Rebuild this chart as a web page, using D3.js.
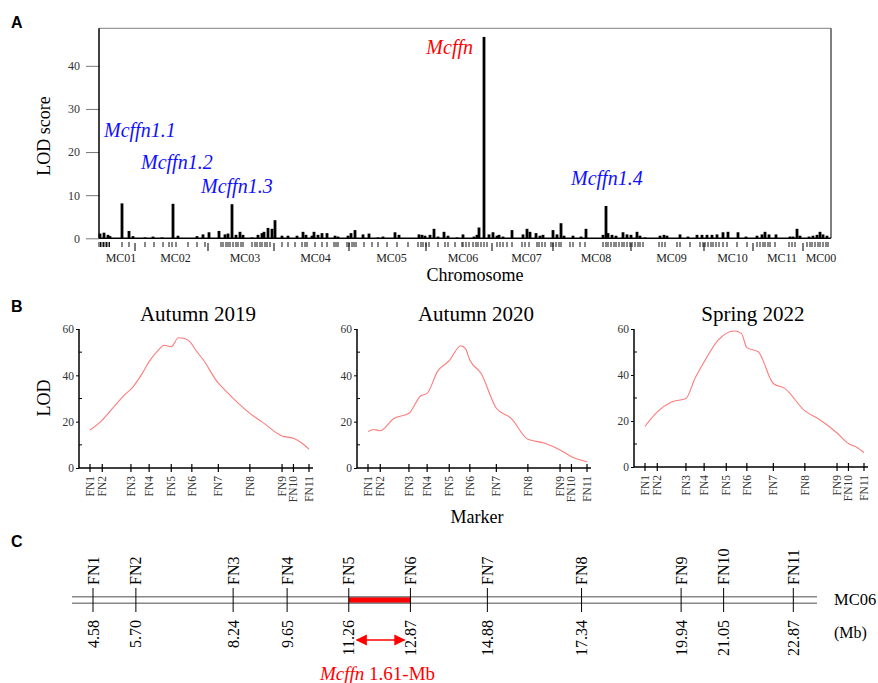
<!DOCTYPE html>
<html>
<head>
<meta charset="utf-8">
<script src="https://cdn.jsdelivr.net/npm/d3@7"></script>
<style>
  body { margin: 0; background: #fff; }
  svg { display: block; font-family: "Liberation Serif", "Times New Roman", serif; }
</style>
</head>
<body>
<svg id="fig" width="878" height="683"></svg>
<script>
// ---- panel A: genome scan (cumulative map units) ----
const chromNames = ['MC01', 'MC02', 'MC03', 'MC04', 'MC05', 'MC06', 'MC07', 'MC08', 'MC09', 'MC10', 'MC11', 'MC00'];
const chromLengths = [36, 73, 66, 75, 77, 66, 61, 78, 73, 49, 50, 28];

const scanPos = [1, 5, 9, 11, 23, 30, 34, 46, 54, 63, 74, 79, 98, 104, 110, 120, 126, 129, 133, 137, 141, 144,
  153, 159, 163, 165, 169, 173, 176, 183, 189, 198, 204, 207, 213, 215, 219, 223, 228, 236, 239, 249, 252, 256,
  264, 270, 279, 284, 296, 300, 320, 323, 326, 331, 335, 339, 345, 349, 358, 364, 375, 378, 380, 385, 390, 394,
  398, 400, 404, 413, 424, 428, 431, 437, 441, 444, 454, 458, 462, 465, 474, 482, 487, 504, 507, 509, 513, 517,
  524, 528, 532, 538, 541, 546, 561, 565, 568, 581, 589, 598, 603, 608, 613, 618, 624, 629, 639, 647, 658, 663,
  666, 670, 677, 691, 694, 698, 701, 710, 714, 718, 721, 724, 728];
const scanLod = [1.1, 1.3, 0.8, 0.5, 8.1, 1.7, 0.5, 0.2, 0.4, 0.2, 8.0, 0.6, 0.5, 0.9, 1.4, 1.7, 0.9, 1.1, 7.9, 0.8, 1.5, 0.8,
  0.2, 0.8, 1.2, 1.5, 2.4, 2.2, 4.2, 0.6, 0.6, 0.6, 1.5, 0.8, 0.6, 1.5, 0.8, 1.2, 1.2, 0.6, 0.4, 0.6, 1.2, 1.9,
  0.9, 1.1, 0.2, 0.4, 1.4, 0.8, 0.9, 0.8, 0.6, 0.8, 2.2, 0.4, 1.5, 0.6, 0.2, 0.9, 0.4, 0.8, 2.5, 46.7, 0.9, 1.4,
  0.6, 0.8, 0.4, 1.9, 0.9, 2.2, 1.5, 1.2, 0.6, 0.8, 1.9, 0.9, 3.5, 0.6, 0.6, 0.4, 2.2, 0.8, 7.5, 1.2, 0.8, 0.6,
  1.4, 0.9, 0.8, 1.5, 0.6, 0.2, 0.6, 0.8, 0.6, 0.9, 0.4, 0.8, 0.8, 0.8, 0.8, 0.9, 1.4, 1.5, 1.4, 0.4, 0.6, 0.9,
  1.5, 0.9, 0.9, 0.4, 0.4, 2.2, 0.6, 0.4, 0.6, 0.8, 1.5, 0.9, 0.6];

const rugPos = [0, 1.5, 3, 4.5, 6, 7.5, 9, 10.5, 23, 30, 46, 55, 64, 70, 73, 77, 89, 98, 106,
  122, 124, 127, 129, 131, 134, 137, 139, 142, 144, 153, 156, 158, 161, 163, 166, 168, 171, 183, 189, 196,
  203, 206, 208, 216, 223, 228, 235, 237, 239, 248, 250, 253, 255, 257, 265, 273, 279, 288, 298, 309,
  319, 322, 324, 327, 330, 339, 346, 349, 356, 363, 364, 367, 370, 374, 377, 379, 382, 385, 388,
  398, 401, 404, 408, 413, 423, 426, 430, 438, 440, 443, 446, 452, 454, 457, 460, 462, 471, 474, 481, 486,
  504, 507, 509, 512, 515, 517, 520, 523, 525, 528, 531, 533, 536, 539, 541, 544, 560, 563, 566, 578, 581,
  591, 601, 604, 606, 609, 612, 614, 617, 620, 624, 628, 638, 648, 658, 661, 664, 666, 669, 671, 676,
  690, 693, 696, 708, 711, 713, 716, 719, 721, 724, 727, 729];

const qtlNames = ['Mcffn1.1', 'Mcffn1.2', 'Mcffn1.3', 'Mcffn', 'Mcffn1.4'];
const yTicksA = [0, 10, 20, 30, 40];

// ---- panel B: LOD profiles on MC06 ----
const markerNames = ['FN1', 'FN2', 'FN3', 'FN4', 'FN5', 'FN6', 'FN7', 'FN8', 'FN9', 'FN10', 'FN11'];
const markerMapPos = [0, 5.6, 18.7, 27.0, 37.1, 46.5, 58.6, 73.0, 87.7, 92.9, 100];
const seasons = ['Autumn 2019', 'Autumn 2020', 'Spring 2022'];

const autumn2019Pos = [0, 5.6, 11.0, 16.5, 18.7, 23.4, 27.0, 31.2, 33.9, 37.1, 40.4, 42.7, 46.5, 47.7, 51.8, 58.6, 60.1, 66.1, 73.0, 78.4, 87.7, 92.9, 96.8, 100];
const autumn2019Lod = [16.4, 20.7, 26.5, 32.2, 34.0, 40.1, 45.9, 50.9, 53.0, 52.4, 56.2, 56.0, 53.5, 51.7, 46.6, 36.6, 35.1, 29.4, 23.6, 20.0, 13.8, 12.8, 10.7, 8.1];
const autumn2020Pos = [0, 2.6, 5.6, 11.8, 18.7, 24.0, 27.0, 31.7, 37.1, 42.4, 44.5, 46.5, 51.6, 58.6, 65.4, 73.0, 80.7, 87.7, 92.9, 100];
const autumn2020Lod = [15.7, 16.6, 16.1, 21.4, 23.6, 31.1, 32.2, 41.6, 46.3, 52.8, 51.5, 46.6, 40.9, 25.8, 21.4, 12.4, 10.7, 7.8, 4.9, 2.7];
const spring2022Pos = [0, 5.6, 12.1, 18.7, 22.8, 27.0, 33.4, 37.1, 40.7, 44.0, 46.5, 51.7, 58.6, 63.8, 73.0, 79.0, 87.7, 92.9, 96.5, 100];
const spring2022Lod = [17.7, 24.0, 28.3, 29.8, 38.5, 45.7, 55.2, 58.1, 59.1, 58.1, 51.9, 50.1, 36.3, 34.2, 24.4, 21.1, 14.8, 10.2, 8.7, 6.3];
const yTicksB = [0, 20, 40, 60];
const yMinorB = [10, 30, 50];

// ---- panel C: physical map (Mb) ----
const markerMb = [4.58, 5.70, 8.24, 9.65, 11.26, 12.87, 14.88, 17.34, 19.94, 21.05, 22.87];
const qtlInterval = [11.26, 12.87];

const svg = d3.select('#fig');
const grey = '#333';

function panelLetter(t, x, y) {
  svg.append('text').attr('x', x).attr('y', y)
    .style('font-family', 'Liberation Sans, Arial, sans-serif')
    .style('font-weight', 'bold').style('font-size', '16px').text(t);
}

// ================= A =================
panelLetter('A', 11, 28);

const totalLen = d3.sum(chromLengths);
const xA = d3.scaleLinear().domain([0, totalLen]).range([99, 831]);
const yA = d3.scaleLinear().domain([0, 48.7]).range([238.3, 28.3]);
const chromStart = chromLengths.map((d, i) => d3.sum(chromLengths.slice(0, i)));

const gA = svg.append('g');

// frame
gA.append('line').attr('x1', 99).attr('x2', 831).attr('y1', yA(48.7)).attr('y2', yA(48.7))
  .attr('stroke', '#999').attr('stroke-width', 1.2);
gA.append('line').attr('x1', 831).attr('x2', 831).attr('y1', yA(48.7)).attr('y2', yA(0))
  .attr('stroke', '#555').attr('stroke-width', 1.5);

// y axis
const yAxisA = gA.append('g').attr('transform', 'translate(99,0)')
  .call(d3.axisLeft(yA).tickValues(yTicksA).tickSize(13).tickPadding(6));
yAxisA.select('.domain').remove();
yAxisA.selectAll('.tick line').attr('stroke', '#777');
yAxisA.selectAll('.tick text').attr('fill', grey)
  .style('font-family', 'Liberation Serif, serif').style('font-size', '12px');
gA.append('line').attr('x1', 99).attr('x2', 99).attr('y1', yA(48.7)).attr('y2', yA(0))
  .attr('stroke', '#000').attr('stroke-width', 1.5);

// bars
gA.selectAll('rect.lod').data(scanPos).enter().append('rect')
  .attr('class', 'lod')
  .attr('x', d => xA(d) - 1.4)
  .attr('width', 2.8)
  .attr('y', (d, i) => yA(scanLod[i]))
  .attr('height', (d, i) => yA(0) - yA(scanLod[i]))
  .attr('fill', '#000');

// baseline
gA.append('line').attr('x1', 99).attr('x2', 831).attr('y1', yA(0)).attr('y2', yA(0))
  .attr('stroke', '#000').attr('stroke-width', 1.5);

// marker rug
gA.selectAll('line.rug').data(rugPos).enter().append('line')
  .attr('class', 'rug')
  .attr('x1', d => xA(d)).attr('x2', d => xA(d))
  .attr('y1', 242).attr('y2', 247)
  .attr('stroke', '#111').attr('stroke-width', 1);

// chromosome boundaries
gA.selectAll('line.bound').data(chromStart.slice(1)).enter().append('line')
  .attr('class', 'bound')
  .attr('x1', d => xA(d)).attr('x2', d => xA(d))
  .attr('y1', 243).attr('y2', 251)
  .attr('stroke', '#222').attr('stroke-width', 1.2);

gA.selectAll('text.chrom').data(chromNames).enter().append('text')
  .attr('class', 'chrom')
  .attr('x', (d, i) => xA(chromStart[i] + chromLengths[i] / 2) + 4)
  .attr('y', 262)
  .attr('text-anchor', 'middle')
  .attr('fill', '#222')
  .style('font-size', '12px')
  .text(d => d);

gA.append('text').attr('x', 475).attr('y', 281).attr('text-anchor', 'middle')
  .style('font-size', '18px').text('Chromosome');
gA.append('text').attr('transform', 'translate(50,136) rotate(-90)').attr('text-anchor', 'middle')
  .style('font-size', '18px').text('LOD score');

// QTL labels: [pos, lod, anchor, colour]
const qtlLabelAt = [[5, 23.5, 'start', '#1010ff'], [42, 16.1, 'start', '#1010ff'], [102, 10.5, 'start', '#1010ff'],
  [374, 42.7, 'end', '#ff0000'], [472, 12.4, 'start', '#1010ff']];
gA.selectAll('text.qtl').data(qtlNames).enter().append('text')
  .attr('class', 'qtl')
  .attr('x', (d, i) => xA(qtlLabelAt[i][0]))
  .attr('y', (d, i) => yA(qtlLabelAt[i][1]))
  .attr('text-anchor', (d, i) => qtlLabelAt[i][2])
  .attr('fill', (d, i) => qtlLabelAt[i][3])
  .style('font-style', 'italic').style('font-size', '20px')
  .text(d => d);

// ================= B =================
panelLetter('B', 11, 312);

const curves = [
  autumn2019Pos.map((p, i) => [p, autumn2019Lod[i]]),
  autumn2020Pos.map((p, i) => [p, autumn2020Lod[i]]),
  spring2022Pos.map((p, i) => [p, spring2022Lod[i]])
];
const axisX = [79, 357, 634];
const axisY0 = [468, 468, 467];

seasons.forEach((title, k) => {
  const ax = axisX[k];
  const x = d3.scaleLinear().domain([0, 100]).range([ax + 11, ax + 230]);
  const y = d3.scaleLinear().domain([0, 60]).range([axisY0[k], 329]);
  const g = svg.append('g');

  g.append('text').attr('x', ax + 119).attr('y', 321).attr('text-anchor', 'middle')
    .style('font-size', '21px').text(title);

  // y axis
  const ya = g.append('g').attr('transform', `translate(${ax},0)`)
    .call(d3.axisLeft(y).tickValues(yTicksB).tickSize(3).tickPadding(2));
  ya.select('.domain').remove();
  ya.selectAll('.tick text').attr('fill', grey)
    .style('font-family', 'Liberation Serif, serif').style('font-size', '11.5px');
  g.selectAll('line.minor').data(yMinorB).enter().append('line')
    .attr('x1', ax).attr('x2', ax + 3)
    .attr('y1', d => y(d)).attr('y2', d => y(d))
    .attr('stroke', '#000');
  g.append('line').attr('x1', ax).attr('x2', ax).attr('y1', y(60)).attr('y2', y(0))
    .attr('stroke', '#000').attr('stroke-width', 1.5);

  // x axis
  g.append('line').attr('x1', ax).attr('x2', ax + 234).attr('y1', y(0)).attr('y2', y(0))
    .attr('stroke', '#000').attr('stroke-width', 1.5);
  g.selectAll('line.xt').data(markerMapPos).enter().append('line')
    .attr('x1', d => x(d)).attr('x2', d => x(d))
    .attr('y1', y(0) - 4).attr('y2', y(0) + 4)
    .attr('stroke', '#000').attr('stroke-width', 1.2);
  g.selectAll('text.xl').data(markerNames).enter().append('text')
    .attr('transform', (d, i) => `translate(${x(markerMapPos[i])},${y(0) + 8}) rotate(-90)`)
    .attr('text-anchor', 'end')
    .attr('dy', '0.35em')
    .attr('fill', grey)
    .style('font-size', '11.5px')
    .text(d => d);

  g.append('path').datum(curves[k])
    .attr('fill', 'none')
    .attr('stroke', '#ff7b7b')
    .attr('stroke-width', 1.1)
    .attr('d', d3.line().x(d => x(d[0])).y(d => y(d[1])).curve(d3.curveMonotoneX));

  if (k === 0) {
    g.append('text').attr('transform', 'translate(50,398) rotate(-90)').attr('text-anchor', 'middle')
      .style('font-size', '18px').text('LOD');
  }
});

svg.append('text').attr('x', 477).attr('y', 523).attr('text-anchor', 'middle')
  .style('font-size', '18px').text('Marker');

// ================= C =================
panelLetter('C', 11, 547);

const xC = d3.scaleLinear().domain([markerMb[0], markerMb[markerMb.length - 1]]).range([93, 793.3]);
const gC = svg.append('g');

gC.append('rect')
  .attr('x', xC(qtlInterval[0])).attr('width', xC(qtlInterval[1]) - xC(qtlInterval[0]))
  .attr('y', 596.5).attr('height', 7.5).attr('fill', '#ff0000');
[596.7, 603.3].forEach(yy => {
  gC.append('line').attr('x1', 72).attr('x2', 817).attr('y1', yy).attr('y2', yy)
    .attr('stroke', '#888').attr('stroke-width', 1.5);
});

gC.selectAll('line.mk').data(markerMb).enter().append('line')
  .attr('x1', d => xC(d)).attr('x2', d => xC(d))
  .attr('y1', 588).attr('y2', 612)
  .attr('stroke', '#000').attr('stroke-width', 1);

gC.selectAll('text.mkn').data(markerNames).enter().append('text')
  .attr('transform', (d, i) => `translate(${xC(markerMb[i])},585) rotate(-90)`)
  .attr('text-anchor', 'start').attr('dy', '0.35em')
  .style('font-size', '16px')
  .text(d => d);

gC.selectAll('text.mb').data(markerMb).enter().append('text')
  .attr('transform', d => `translate(${xC(d)},620) rotate(-90)`)
  .attr('text-anchor', 'end').attr('dy', '0.35em')
  .style('font-size', '16px')
  .text(d => d.toFixed(2));

gC.append('text').attr('x', 834).attr('y', 605).style('font-size', '16.5px').text('MC06');
gC.append('text').attr('x', 834).attr('y', 638).style('font-size', '16px').text('(Mb)');

// interval arrow
const defs = svg.append('defs');
defs.append('marker').attr('id', 'ah').attr('viewBox', '0 0 10 10')
  .attr('refX', 9).attr('refY', 5).attr('markerWidth', 7).attr('markerHeight', 7)
  .attr('orient', 'auto-start-reverse')
  .append('path').attr('d', 'M0,0 L10,5 L0,10 z').attr('fill', '#ff0000');
gC.append('line')
  .attr('x1', xC(qtlInterval[0]) + 8).attr('x2', xC(qtlInterval[1]) - 6)
  .attr('y1', 640).attr('y2', 640)
  .attr('stroke', '#ff0000').attr('stroke-width', 1.6)
  .attr('marker-start', 'url(#ah)').attr('marker-end', 'url(#ah)');

const lab = gC.append('text').attr('x', 320).attr('y', 680).attr('fill', '#ff0000').style('font-size', '19px');
lab.append('tspan').style('font-style', 'italic').text('Mcffn');
lab.append('tspan').text(' ' + (qtlInterval[1] - qtlInterval[0]).toFixed(2) + '-Mb');
</script>
</body>
</html>
